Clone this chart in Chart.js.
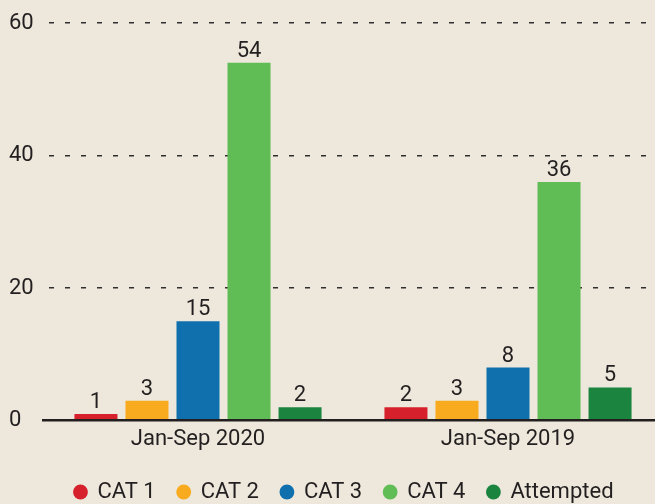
<!DOCTYPE html>
<html>
<head>
<meta charset="utf-8">
<script src="https://cdn.jsdelivr.net/npm/chart.js@4/dist/chart.umd.min.js"></script>
<style>
html,body{margin:0;padding:0;background:#ede8db;}
#wrap{width:655px;height:504px;overflow:hidden;position:relative;background:#ede8db;}
#c{position:absolute;left:0;top:0;}
</style>
</head>
<body>
<div id="wrap"><canvas id="c" width="690" height="513"></canvas></div>
<script>
const categories = ["Jan-Sep 2020", "Jan-Sep 2019"];
const seriesNames = ["CAT 1", "CAT 2", "CAT 3", "CAT 4", "Attempted"];
const cat1 = [1, 2];
const cat2 = [3, 3];
const cat3 = [15, 8];
const cat4 = [54, 36];
const attempted = [2, 5];
const yTicks = [0, 20, 40, 60];
const colors = ["#d6202b", "#f9ab1f", "#1070ae", "#60bc55", "#1b853f"];

const FONT = "Roboto, 'DejaVu Sans', sans-serif";
const TEXT = "#231f20";

const valueLabels = {
  id: 'valueLabels',
  afterDatasetsDraw(chart) {
    const ctx = chart.ctx;
    ctx.save();
    ctx.font = "22px " + FONT;
    ctx.fillStyle = TEXT;
    ctx.textAlign = 'center';
    ctx.textBaseline = 'alphabetic';
    chart.data.datasets.forEach((ds, i) => {
      const meta = chart.getDatasetMeta(i);
      meta.data.forEach((bar, j) => {
        ctx.fillText(String(ds.data[j]), bar.x, bar.y - 6);
      });
    });
    ctx.restore();
  }
};

// nudge the legend box to the right to centre it like the reference
const legendShift = {
  id: 'legendShift',
  afterLayout(chart) {
    const l = chart.legend;
    if (l) { l.left += 8; l.right += 8; }
  }
};

const series = [cat1, cat2, cat3, cat4, attempted];
new Chart(document.getElementById('c'), {
  type: 'bar',
  data: {
    labels: categories,
    datasets: series.map((d, i) => ({
      label: seriesNames[i],
      data: d,
      backgroundColor: colors[i],
      borderWidth: 0,
      categoryPercentage: 0.823,
      barPercentage: 0.843
    }))
  },
  options: {
    responsive: false,
    animation: false,
    devicePixelRatio: 1,
    layout: { padding: { top: 23, right: 27, left: 9, bottom: 0 } },
    scales: {
      x: {
        grid: { display: false, drawTicks: false },
        border: { display: true, color: "#231f20", width: 2.5, z: 1 },
        ticks: { color: TEXT, font: { family: FONT, size: 22 }, padding: 6 }
      },
      y: {
        min: 0, max: 60,
        afterBuildTicks(scale) { scale.ticks = yTicks.map(v => ({ value: v })); },
        afterFit(scale) { scale.width = 34; },
        grid: {
          drawTicks: false,
          color: ctx => ctx.tick && ctx.tick.value === 0 ? 'rgba(0,0,0,0)' : '#2e2e2e',
          lineWidth: 1.4
        },
        border: { display: false, dash: [5, 11], dashOffset: 10 },
        ticks: {
          color: TEXT, font: { family: FONT, size: 22 },
          crossAlign: 'far', padding: 8
        }
      }
    },
    plugins: {
      legend: {
        position: 'bottom',
        labels: {
          usePointStyle: true, pointStyle: 'circle',
          boxWidth: 12, boxHeight: 10.5,
          color: TEXT, font: { family: FONT, size: 22 },
          padding: 22
        }
      },
      tooltip: { enabled: false }
    }
  },
  plugins: [valueLabels, legendShift]
});
</script>
</body>
</html>
